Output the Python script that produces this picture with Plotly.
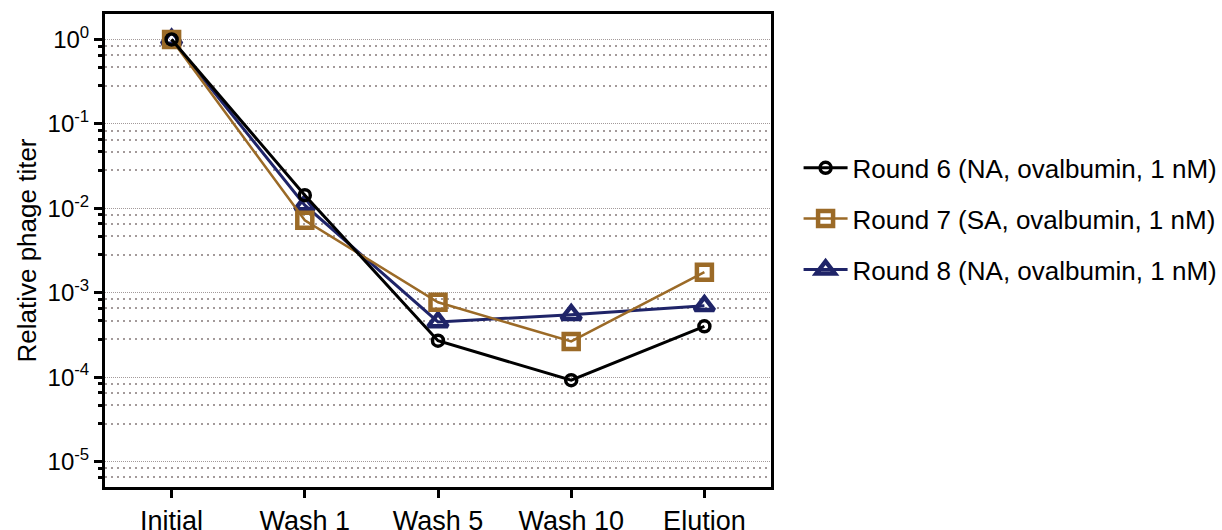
import numpy as np
import plotly.graph_objects as go

# Selection steps along the x axis
steps = ["Initial", "Wash 1", "Wash 5", "Wash 10", "Elution"]

# Relative phage titer per round
round6 = [1.0, 0.0143, 2.7e-4, 9.2e-5, 4.0e-4]
round7 = [1.0, 7.2e-3, 7.7e-4, 2.65e-4, 1.75e-3]
round8 = [1.0, 0.0109, 4.5e-4, 5.5e-4, 7.0e-4]

names = [
    "Round 6 (NA, ovalbumin, 1 nM)",
    "Round 7 (SA, ovalbumin, 1 nM)",
    "Round 8 (NA, ovalbumin, 1 nM)",
]

# Decade tick labels
decades = [0, -1, -2, -3, -4, -5]
tick_vals = [10.0 ** d for d in decades]
tick_text = [f"10<sup>{d}</sup>" for d in decades]

# Minor grid positions inside each decade
minor_frac = [0.079, 0.186, 0.332, 0.55]
minor_vals = [10.0 ** (d - f) for d in range(1, -7, -1) for f in minor_frac]

BLACK = "#000000"
BROWN = "#9B6A27"
NAVY = "#1F2468"

fig = go.Figure()

# Drawn back to front: round 8, round 7, round 6
fig.add_trace(go.Scatter(
    x=steps, y=round8, name=names[2], mode="lines+markers",
    legendgroup="r8", legendrank=3,
    line=dict(color=NAVY, width=3),
    marker=dict(symbol="triangle-up-open", size=17, color=NAVY, line=dict(width=4.5, color=NAVY)),
))
fig.add_trace(go.Scatter(
    x=steps, y=round7, name=names[1], mode="lines+markers",
    legendgroup="r7", legendrank=2,
    line=dict(color=BROWN, width=2.5),
    marker=dict(symbol="square-open", size=15, color=BROWN, line=dict(width=4.5, color=BROWN)),
))
fig.add_trace(go.Scatter(
    x=steps, y=round6, name=names[0], mode="lines+markers",
    legendgroup="r6", legendrank=1,
    line=dict(color=BLACK, width=3),
    marker=dict(symbol="circle-open", size=11, color=BLACK, line=dict(width=3.5, color=BLACK)),
))

fig.update_layout(
    width=1222, height=530,
    margin=dict(l=105, r=451, t=14, b=43, autoexpand=False),
    paper_bgcolor="white", plot_bgcolor="white",
    font=dict(family="Liberation Sans, Arial, sans-serif", color="black", size=26),
    legend=dict(
        xref="container", yref="container",
        x=0.6535, y=0.587, xanchor="left", yanchor="middle",
        font=dict(size=26), tracegroupgap=14, itemwidth=44,
        bgcolor="rgba(0,0,0,0)",
    ),
)

fig.update_xaxes(
    type="category", range=[-0.5, 4.5], automargin=False,
    showline=True, mirror=True, linecolor="black", linewidth=3,
    ticks="outside", ticklen=8, tickwidth=3, tickcolor="black",
    tickfont=dict(size=27), showgrid=False, zeroline=False,
)

fig.update_yaxes(
    type="log", range=[np.log10(5e-6), np.log10(2.0)], automargin=False,
    tickmode="array", tickvals=tick_vals, ticktext=tick_text,
    tickfont=dict(size=24),
    showline=True, mirror=True, linecolor="black", linewidth=3,
    ticks="outside", ticklen=8, tickwidth=3, tickcolor="black",
    showgrid=True, gridcolor="#a39a9a", gridwidth=1, griddash="1px,1px",
    zeroline=False,
    title=dict(text="Relative phage titer", font=dict(size=26), standoff=4),
    minor=dict(
        tickmode="array", tickvals=minor_vals,
        ticks="outside", ticklen=4, tickwidth=3, tickcolor="black",
        showgrid=True, gridcolor="#a39a9a", gridwidth=1.5, griddash="2px,4px",
    ),
)

fig.write_html("out.html")
